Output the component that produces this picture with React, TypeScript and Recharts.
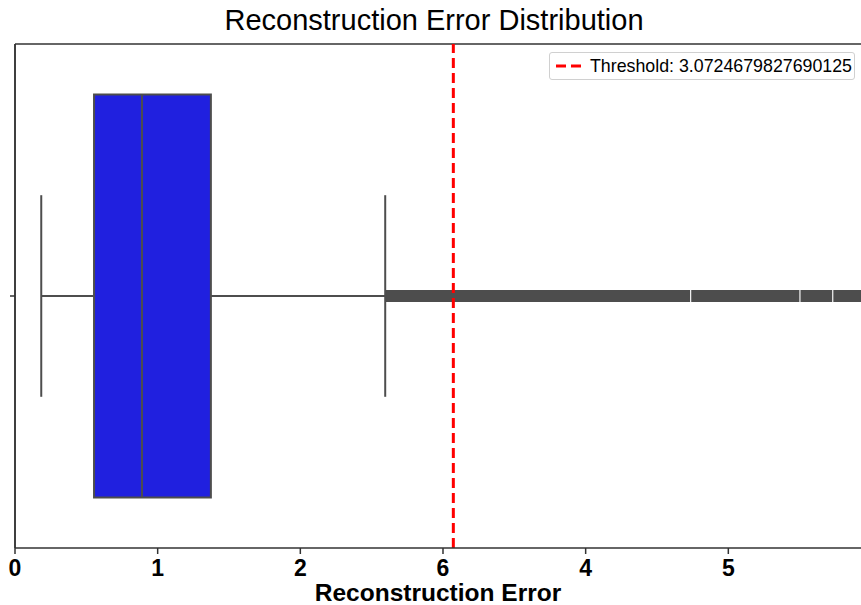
import {
  ComposedChart,
  ReferenceArea,
  ReferenceLine,
  XAxis,
  YAxis,
} from "recharts";

const xTicks = [0, 1, 2, 3, 4, 5];
const xTickLabels = ["0", "1", "2", "6", "4", "5"];

// box: q1, median, q3 and the whisker ends
const quartiles = [0.554, 0.89, 1.373];
const whiskers = [0.184, 2.595];

// the fliers overlap into a solid band, read as runs with small gaps
const outlierRuns = [
  [2.595, 4.732],
  [4.74, 5.498],
  [5.506, 5.728],
  [5.736, 6.0],
];

const threshold = 3.0724679827690125;

const FONT = "'Liberation Sans', Arial, sans-serif";
const LINE = "#4d4d4d";
const SPINE = "#333333";

const tickLabel = (v: number) => xTickLabels[xTicks.indexOf(v)] ?? "";

export default function App() {
  const [q1, med, q3] = quartiles;
  const [wLow, wHigh] = whiskers;

  return (
    <div
      style={{
        position: "absolute",
        left: 0,
        top: 0,
        width: 861,
        height: 605,
        background: "#fff",
        fontFamily: FONT,
        overflow: "hidden",
      }}
    >
      <div
        style={{
          position: "absolute",
          left: 0,
          width: 868,
          top: 4,
          textAlign: "center",
          fontSize: 29,
          color: "#000",
        }}
      >
        Reconstruction Error Distribution
      </div>

      <ComposedChart
        width={861}
        height={605}
        margin={{ top: 44, right: 0, bottom: 0, left: 0 }}
      >
        <XAxis
          type="number"
          dataKey="x"
          domain={[0, 5.93]}
          allowDataOverflow
          ticks={xTicks}
          tickFormatter={tickLabel}
          height={57}
          stroke={SPINE}
          strokeWidth={1.5}
          tickSize={6}
          tickMargin={6}
          tick={{ fill: "#000", fontSize: 23, fontWeight: "bold", fontFamily: FONT }}
          label={{
            value: "Reconstruction Error",
            position: "insideBottom",
            offset: 4,
            fill: "#000",
            fontSize: 24.5,
            fontWeight: "bold",
            fontFamily: FONT,
          }}
        />
        <YAxis
          type="number"
          dataKey="y"
          domain={[-0.5, 0.5]}
          allowDataOverflow
          ticks={[0]}
          tickFormatter={() => ""}
          width={15}
          stroke={SPINE}
          strokeWidth={1.5}
          tickSize={5}
        />

        {/* top and left spines */}
        <ReferenceLine y={0.5} stroke={SPINE} strokeWidth={1.5} ifOverflow="visible" />
        <ReferenceLine x={0} stroke={SPINE} strokeWidth={1.5} ifOverflow="visible" />

        {/* fliers */}
        {outlierRuns.map(([a, b], i) => (
          <ReferenceArea
            key={i}
            x1={a}
            x2={b}
            y1={-0.012}
            y2={0.012}
            fill={LINE}
            fillOpacity={1}
            stroke="none"
            ifOverflow="hidden"
          />
        ))}

        {/* whiskers */}
        <ReferenceLine segment={[{ x: wLow, y: 0 }, { x: q1, y: 0 }]} stroke={LINE} strokeWidth={2} />
        <ReferenceLine segment={[{ x: q3, y: 0 }, { x: wHigh, y: 0 }]} stroke={LINE} strokeWidth={2} />
        <ReferenceLine segment={[{ x: wLow, y: -0.2 }, { x: wLow, y: 0.2 }]} stroke={LINE} strokeWidth={2} />
        <ReferenceLine segment={[{ x: wHigh, y: -0.2 }, { x: wHigh, y: 0.2 }]} stroke={LINE} strokeWidth={2} />

        {/* box */}
        <ReferenceArea
          x1={q1}
          x2={q3}
          y1={-0.4}
          y2={0.4}
          fill="#2020df"
          fillOpacity={1}
          stroke={LINE}
          strokeWidth={2}
        />
        <ReferenceLine segment={[{ x: med, y: -0.4 }, { x: med, y: 0.4 }]} stroke={LINE} strokeWidth={2} />

        <ReferenceLine
          x={threshold}
          stroke="#ff0000"
          strokeWidth={3}
          strokeDasharray="10 5"
        />
      </ComposedChart>

      <div
        style={{
          position: "absolute",
          left: 549,
          top: 52,
          width: 306,
          height: 28,
          boxSizing: "border-box",
          border: "1px solid #d0d0d0",
          borderRadius: 3,
          background: "#fff",
          display: "flex",
          alignItems: "center",
          fontSize: 17.8,
          color: "#000",
          whiteSpace: "nowrap",
        }}
      >
        <svg width={34} height={10} style={{ marginLeft: 6, flex: "none" }}>
          <line x1={0} y1={5} x2={27} y2={5} stroke="#ff0000" strokeWidth={3} strokeDasharray="10 5" />
        </svg>
        <span>Threshold: {String(threshold)}</span>
      </div>
    </div>
  );
}
